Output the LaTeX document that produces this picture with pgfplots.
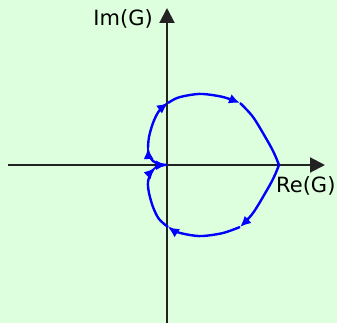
\documentclass[border=0pt]{standalone}
\usepackage{pgfplots}
\pgfplotsset{compat=1.18}
\usepackage{fontspec}
\setmainfont{DejaVu Sans}
\usetikzlibrary{arrows.meta}
\definecolor{bg}{RGB}{221,255,221}
\definecolor{axcol}{RGB}{34,34,34}
\tikzset{nyq/.style={blue, line width=2.4pt, smooth, tension=0.55, no markers},
         tip/.style={-{Latex[length=11pt,width=10pt]}}}
\begin{document}
\begin{tikzpicture}
\begin{axis}[
  x=1pt, y=1pt,
  xmin=-167, xmax=170, ymin=-158, ymax=165,
  axis lines=none, ticks=none,
  axis background/.style={fill=bg},
  clip=false,
]
% coordinate axes
\draw[axcol, line width=2pt, -{Triangle[length=15pt,width=15pt]}] (axis cs:-159,0) -- (axis cs:158,0);
\draw[axcol, line width=2pt, -{Triangle[length=15pt,width=15pt]}] (axis cs:0,-158) -- (axis cs:0,157);
\node[anchor=east, font=\fontsize{21}{25}\selectfont, inner sep=0pt] at (axis cs:-14,146) {Im(G)};
\node[anchor=west, font=\fontsize{21}{25}\selectfont, inner sep=0pt] at (axis cs:109,-21) {Re(G)};

% Nyquist contour, lower branch (omega > 0) from the real-axis crossing to the origin
\addplot[nyq, tip] coordinates {(112,0) (107,-12) (100,-25) (86,-48) (73,-62)};
\addplot[nyq, tip] coordinates {(73,-62) (56,-68) (36,-71) (23,-70) (10,-67) (1,-62)};
\addplot[nyq, tip] coordinates {(1,-62) (-8,-54) (-14,-42) (-18,-28) (-19,-17) (-16,-8) (-12,-3)};
\addplot[nyq, tip] coordinates {(-12,-3) (-8,-1) (-4,-0.2) (0,0)};
% upper branch (omega < 0), mirror image
\addplot[nyq, tip] coordinates {(0,0) (-8,1) (-14,4) (-18,10) (-19,17)};
\addplot[nyq, tip] coordinates {(-19,17) (-18,28) (-14,42) (-8,54) (1,62)};
\addplot[nyq, tip] coordinates {(1,62) (10,67) (23,70) (36,71) (56,68) (73,62)};
\addplot[nyq] coordinates {(73,62) (86,48) (100,25) (107,12) (112,0)};
\end{axis}
\end{tikzpicture}
\end{document}
